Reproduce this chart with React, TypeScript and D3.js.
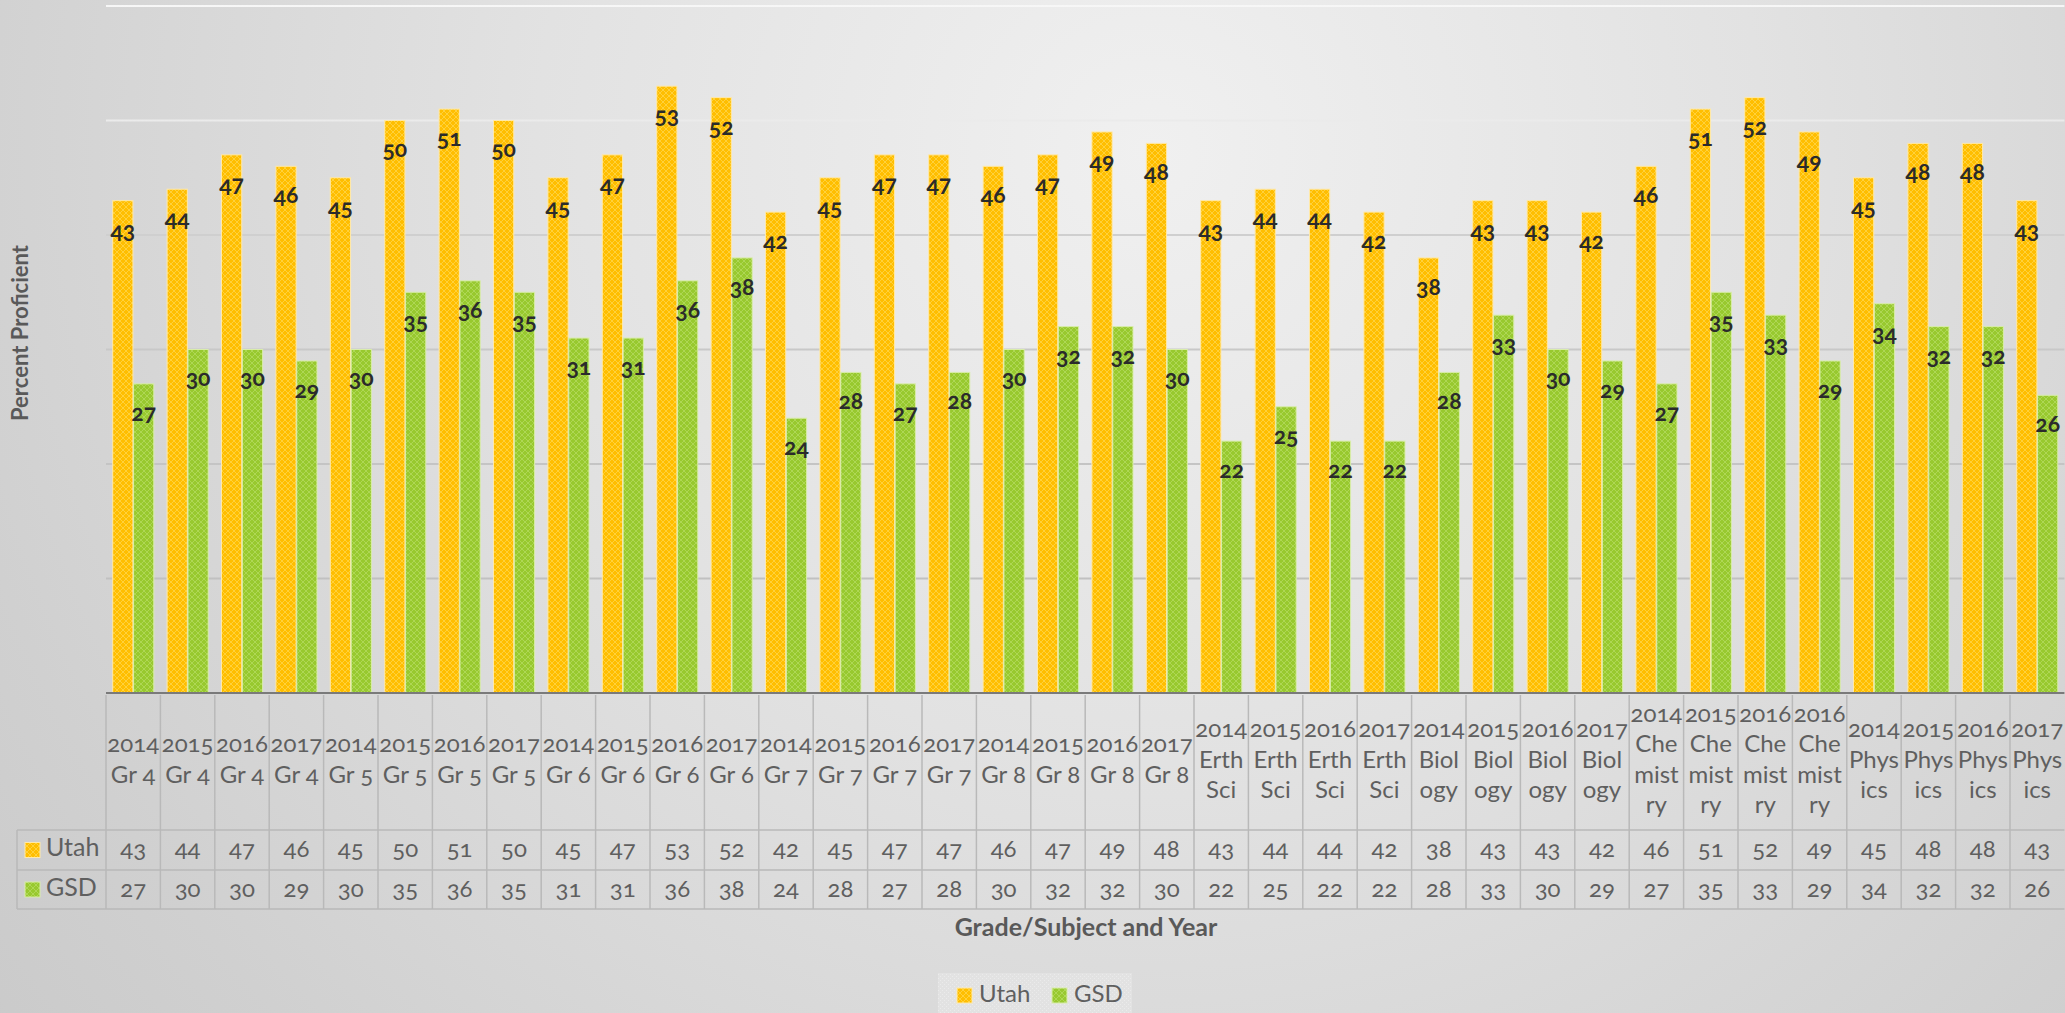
import React from "react";
import * as d3 from "d3";

const categories: string[] = [
  "2014\nGr 4", "2015\nGr 4", "2016\nGr 4", "2017\nGr 4",
  "2014\nGr 5", "2015\nGr 5", "2016\nGr 5", "2017\nGr 5",
  "2014\nGr 6", "2015\nGr 6", "2016\nGr 6", "2017\nGr 6",
  "2014\nGr 7", "2015\nGr 7", "2016\nGr 7", "2017\nGr 7",
  "2014\nGr 8", "2015\nGr 8", "2016\nGr 8", "2017\nGr 8",
  "2014\nErth\nSci", "2015\nErth\nSci", "2016\nErth\nSci", "2017\nErth\nSci",
  "2014\nBiol\nogy", "2015\nBiol\nogy", "2016\nBiol\nogy", "2017\nBiol\nogy",
  "2014\nChe\nmist\nry", "2015\nChe\nmist\nry", "2016\nChe\nmist\nry", "2016\nChe\nmist\nry",
  "2014\nPhys\nics", "2015\nPhys\nics", "2016\nPhys\nics", "2017\nPhys\nics",
];

const utah: number[] = [
  43, 44, 47, 46, 45, 50, 51, 50, 45, 47, 53, 52, 42, 45, 47, 47, 46, 47, 49, 48,
  43, 44, 44, 42, 38, 43, 43, 42, 46, 51, 52, 49, 45, 48, 48, 43,
];

const gsd: number[] = [
  27, 30, 30, 29, 30, 35, 36, 35, 31, 31, 36, 38, 24, 28, 27, 28, 30, 32, 32, 30,
  22, 25, 22, 22, 28, 33, 30, 29, 27, 35, 33, 29, 34, 32, 32, 26,
];

const seriesNames: string[] = ["Utah", "GSD"];
const yTicks: number[] = [0, 10, 20, 30, 40, 50, 60];

const W = 2065;
const H = 1013;
const FONT = "Lato, 'Open Sans', sans-serif";

export default function App() {
  const plotLeft = 106;
  const catW = 54.4;
  const plotRight = plotLeft + catW * categories.length;
  const plotTop = 6;
  const plotBottom = 693;

  const x = d3.scaleBand<number>().domain(d3.range(categories.length)).range([plotLeft, plotRight]).padding(0);
  const xs = d3.scaleBand<string>().domain(seriesNames).range([6.7, 47.8]).paddingInner(0.03);
  const y = d3.scaleLinear().domain([0, 60]).range([plotBottom, plotTop]);

  const headerBottom = 830;
  const row1Bottom = 870;
  const row2Bottom = 909;
  const tableLeft = 17;
  const lineH = 30.5;

  const pats: Record<string, string> = { Utah: "url(#patUtah)", GSD: "url(#patGSD)" };
  const values: Record<string, number[]> = { Utah: utah, GSD: gsd };

  const textGray = "#5f5f5f";
  const borderGray = "#b9b9b9";

  return (
    <svg
      width={W}
      height={H}
      style={{ position: "absolute", left: 0, top: 0, display: "block" }}
      fontFamily={FONT}
    >
      <defs>
        <radialGradient id="bg" gradientUnits="userSpaceOnUse" cx={1150} cy={150} r={1750}>
          <stop offset="0" stopColor="#f0f0f0" />
          <stop offset="0.35" stopColor="#e2e2e2" />
          <stop offset="0.7" stopColor="#d0d0d0" />
          <stop offset="1" stopColor="#c3c3c3" />
        </radialGradient>
        <linearGradient id="grid" gradientUnits="userSpaceOnUse" x1={0} y1={0} x2={0} y2={plotBottom}>
          <stop offset="0" stopColor="#f7f7f7" />
          <stop offset="0.2" stopColor="#e9e9e9" />
          <stop offset="0.36" stopColor="#cbcbcb" />
          <stop offset="1" stopColor="#bdbdbd" />
        </linearGradient>
        <pattern id="patUtah" width={6} height={6} patternUnits="userSpaceOnUse">
          <rect width={6} height={6} fill="#FFBE00" />
          <path d="M0,3 L3,0 L6,3 L3,6 Z" fill="none" stroke="#FFD54A" strokeWidth={0.8} />
        </pattern>
        <pattern id="patGSD" width={6} height={6} patternUnits="userSpaceOnUse">
          <rect width={6} height={6} fill="#98C92F" />
          <path d="M0,3 L3,0 L6,3 L3,6 Z" fill="none" stroke="#B4DA5E" strokeWidth={0.8} />
        </pattern>
        <pattern id="patLegend" width={4} height={4} patternUnits="userSpaceOnUse">
          <rect width={4} height={4} fill="#e2e2e2" />
          <rect x={0} y={0} width={1} height={1} fill="#ebebeb" />
          <rect x={2} y={2} width={1} height={1} fill="#ebebeb" />
        </pattern>
      </defs>

      <rect x={0} y={0} width={W} height={H} fill="url(#bg)" />

      {/* gridlines */}
      {yTicks.slice(1).map((t) => (
        <line key={t} x1={plotLeft} x2={plotRight} y1={y(t)} y2={y(t)} stroke="url(#grid)" strokeWidth={2} />
      ))}

      {/* bars */}
      {seriesNames.map((s) =>
        values[s].map((v, i) => (
          <rect
            key={s + i}
            x={(x(i) ?? 0) + (xs(s) ?? 0)}
            y={y(v)}
            width={xs.bandwidth()}
            height={plotBottom - y(v)}
            fill={pats[s]}
            stroke={s === "Utah" ? "#FFE9A8" : "#D9EDAA"}
            strokeWidth={1}
          />
        ))
      )}

      {/* data labels */}
      {seriesNames.map((s) =>
        values[s].map((v, i) => (
          <text
            key={"l" + s + i}
            x={(x(i) ?? 0) + (xs(s) ?? 0) + xs.bandwidth() / 2}
            y={y(v) + 31}
            textAnchor="middle"
            dominantBaseline="middle"
            fontSize={23}
            fontWeight="bold"
            fill="#2b2b2b"
            style={{ fontVariantNumeric: "oldstyle-nums" }}
          >
            {v}
          </text>
        ))
      )}

      {/* axis line */}
      <line x1={plotLeft} x2={plotRight} y1={plotBottom} y2={plotBottom} stroke="#7a7a7a" strokeWidth={2} />

      {/* table grid */}
      {categories.map((_, i) => (
        <line key={"v" + i} x1={x(i)} x2={x(i)} y1={plotBottom + 2} y2={row2Bottom} stroke={borderGray} strokeWidth={1.5} />
      ))}
      <line x1={tableLeft} x2={tableLeft} y1={headerBottom} y2={row2Bottom} stroke={borderGray} strokeWidth={1.5} />
      {[headerBottom, row1Bottom, row2Bottom].map((yy) => (
        <line key={"h" + yy} x1={tableLeft} x2={plotRight} y1={yy} y2={yy} stroke={borderGray} strokeWidth={1.5} />
      ))}

      {/* header labels */}
      {categories.map((c, i) => {
        const lines = c.split("\n");
        const cx = (x(i) ?? 0) + x.bandwidth() / 2;
        const mid = (plotBottom + headerBottom) / 2;
        const start = mid - ((lines.length - 1) * lineH) / 2;
        return (
          <text
            key={"c" + i}
            textAnchor="middle"
            fontSize={24}
            fill={textGray}
            style={{ fontVariantNumeric: "oldstyle-nums" }}
          >
            {lines.map((ln, j) => (
              <tspan key={j} x={cx} y={start + j * lineH} dominantBaseline="middle">
                {ln}
              </tspan>
            ))}
          </text>
        );
      })}

      {/* table values */}
      {seriesNames.map((s, si) => {
        const top = si === 0 ? headerBottom : row1Bottom;
        const bot = si === 0 ? row1Bottom : row2Bottom;
        return (
          <g key={"row" + s}>
            <rect x={25} y={(top + bot) / 2 - 7.5} width={15} height={15} fill={pats[s]} stroke={s === "Utah" ? "#FFE9A8" : "#D9EDAA"} strokeWidth={1} />
            <text x={46} y={(top + bot) / 2} dominantBaseline="middle" fontSize={25} fill={textGray}>
              {s}
            </text>
            {values[s].map((v, i) => (
              <text
                key={i}
                x={(x(i) ?? 0) + x.bandwidth() / 2}
                y={(top + bot) / 2 + 1}
                textAnchor="middle"
                dominantBaseline="middle"
                fontSize={24}
                fill={textGray}
                style={{ fontVariantNumeric: "oldstyle-nums" }}
              >
                {v}
              </text>
            ))}
          </g>
        );
      })}

      {/* axis titles */}
      <text x={1086} y={930} textAnchor="middle" dominantBaseline="middle" fontSize={25} fontWeight="bold" fill="#595959">
        Grade/Subject and Year
      </text>
      <text
        transform={`translate(22, ${333}) rotate(-90)`}
        textAnchor="middle"
        dominantBaseline="middle"
        fontSize={22}
        fontWeight="bold"
        fill="#595959"
      >
        Percent Proficient
      </text>

      {/* legend */}
      <rect x={938} y={973} width={194} height={45} fill="url(#patLegend)" />
      {seriesNames.map((s, i) => {
        const lx = i === 0 ? 957 : 1052;
        return (
          <g key={"lg" + s}>
            <rect x={lx} y={988} width={15} height={15} fill={pats[s]} stroke={s === "Utah" ? "#FFE9A8" : "#D9EDAA"} strokeWidth={1} />
            <text x={lx + 22} y={996} dominantBaseline="middle" fontSize={24} fill={textGray}>
              {s}
            </text>
          </g>
        );
      })}
    </svg>
  );
}
